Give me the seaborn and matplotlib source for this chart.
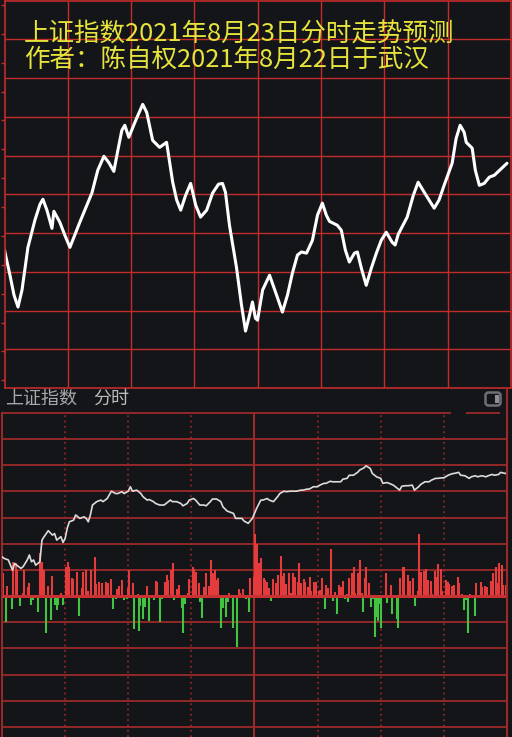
import matplotlib
matplotlib.use("Agg")
import matplotlib.pyplot as plt
from matplotlib.patches import FancyBboxPatch, Rectangle
from matplotlib.transforms import IdentityTransform
import seaborn as sns
import numpy as np

# --- data ---------------------------------------------------------------
# top panel: predicted intraday curve (minutes after open, grid units)
pred_t = [0, 0.7, 2.6, 4.5, 6.4, 8.3, 11.1, 14.4, 16.8, 18.2,
          20.1, 22.5, 23.4, 26.2, 28.6, 31.0, 35.7, 41.4, 44.2, 47.1,
          49.4, 51.8, 53.7, 55.6, 57.0, 58.9, 62.2, 65.5, 67.4, 70.2,
          73.5, 76.8, 79.7, 81.6, 83.5, 85.8, 88.2, 90.6, 92.9, 95.8,
          98.6, 101.4, 103.3, 104.7, 106.6, 109.9, 112.3, 114.2, 116.1, 117.5,
          118.9, 119.9, 122.3, 125.6, 128.9, 131.7, 134.1, 136.4, 138.8, 140.7,
          143.1, 145.9, 148.3, 150.6, 152.5, 154.0, 157.7, 159.6, 161.5, 163.4,
          165.8, 167.2, 169.1, 171.4, 173.8, 176.2, 178.5, 180.9, 183.7, 185.1,
          186.6, 190.8, 193.7, 196.0, 199.8, 203.6, 205.9, 208.3, 212.1, 214.0,
          215.9, 217.8, 218.8, 221.6, 223.1, 225.0, 227.3, 229.7, 232.1, 238.1]
pred_v = [3.56, 3.38, 2.91, 2.40, 2.09, 2.53, 3.63, 4.33, 4.74, 4.87,
          4.59, 4.12, 4.56, 4.28, 3.94, 3.63, 4.28, 5.03, 5.62, 5.98,
          5.82, 5.59, 6.13, 6.65, 6.78, 6.47, 6.91, 7.32, 7.11, 6.39,
          6.21, 6.34, 5.31, 4.85, 4.59, 4.97, 5.28, 4.72, 4.41, 4.59,
          5.03, 5.26, 5.28, 5.05, 4.20, 3.12, 2.14, 1.47, 1.88, 2.22,
          1.80, 1.75, 2.53, 2.91, 2.40, 1.96, 2.40, 2.96, 3.43, 3.51,
          3.48, 3.81, 4.46, 4.77, 4.46, 4.30, 4.20, 4.07, 3.56, 3.25,
          3.48, 3.51, 3.09, 2.65, 3.09, 3.48, 3.81, 4.02, 3.76, 3.69,
          3.97, 4.41, 4.97, 5.31, 4.97, 4.64, 4.85, 5.23, 5.80, 6.44,
          6.78, 6.60, 6.34, 6.19, 5.62, 5.23, 5.28, 5.44, 5.49, 5.80]

# bottom panel: actual minute line (grid units, 0 = volume baseline)
real_t = [0, 1, 3, 5, 6, 7, 9, 10, 12, 13,
          14, 15, 16, 18, 19, 20, 22, 24, 25, 26,
          28, 29, 30, 31, 32, 34, 35, 37, 39, 40,
          41, 42, 43, 45, 47, 48, 50, 52, 54, 55,
          57, 58, 60, 61, 62, 64, 66, 67, 69, 70,
          72, 73, 75, 77, 78, 80, 81, 83, 85, 86,
          88, 89, 91, 92, 94, 96, 97, 99, 100, 102,
          104, 105, 107, 108, 110, 111, 112, 114, 115, 117,
          119, 120, 121, 123, 124, 126, 127, 129, 131, 132,
          134, 135, 137, 138, 140, 142, 143, 145, 146, 148,
          150, 151, 153, 154, 156, 157, 159, 161, 162, 164,
          165, 167, 169, 170, 172, 173, 175, 176, 178, 180,
          181, 183, 184, 186, 188, 189, 190, 192, 193, 195,
          196, 198, 199, 201, 203, 204, 206, 207, 209, 210,
          212, 214, 215, 217, 218, 220, 222, 223, 225, 226,
          228, 230, 231, 233, 234, 236, 237, 239, 240]
real_v = [1.50, 1.44, 1.38, 0.99, 1.25, 1.18, 1.06, 1.12, 1.38, 1.57,
          1.31, 1.38, 1.18, 1.31, 2.14, 2.27, 2.50, 2.33, 2.39, 2.14,
          2.27, 2.05, 2.20, 2.59, 2.84, 2.90, 3.10, 2.97, 3.03, 2.97,
          2.84, 3.10, 3.48, 3.61, 3.67, 3.61, 3.73, 4.01, 3.92, 3.92,
          3.99, 3.92, 4.01, 4.18, 4.01, 4.05, 3.92, 3.80, 3.67, 3.69,
          3.61, 3.54, 3.48, 3.48, 3.54, 3.67, 3.61, 3.61, 3.54, 3.45,
          3.54, 3.67, 3.73, 3.67, 3.48, 3.48, 3.45, 3.61, 3.71, 3.71,
          3.61, 3.41, 3.25, 3.22, 3.16, 2.97, 2.97, 2.97, 2.87, 2.78,
          2.97, 3.16, 3.35, 3.67, 3.67, 3.73, 3.67, 3.61, 3.80, 3.92,
          4.01, 3.99, 4.01, 4.01, 4.01, 4.05, 4.05, 4.09, 4.09, 4.18,
          4.18, 4.24, 4.31, 4.31, 4.39, 4.37, 4.37, 4.37, 4.47, 4.50,
          4.62, 4.62, 4.73, 4.82, 4.90, 4.98, 4.88, 4.69, 4.56, 4.50,
          4.31, 4.34, 4.31, 4.24, 4.11, 4.05, 4.20, 4.22, 4.22, 4.24,
          4.05, 4.18, 4.27, 4.37, 4.37, 4.43, 4.50, 4.50, 4.52, 4.52,
          4.62, 4.68, 4.69, 4.73, 4.62, 4.60, 4.50, 4.56, 4.60, 4.56,
          4.60, 4.56, 4.60, 4.65, 4.62, 4.65, 4.73, 4.69, 4.69]

# volume bars: positive = red (up), negative = green (down)
vol_t = [0.3, 1.9, 2.5, 4.8, 5.4, 6.7, 7.3, 8.6, 9.8, 10.6,
         12.2, 13.0, 13.6, 14.9, 15.7, 17.3, 18.1, 18.9, 20.1, 20.9,
         21.7, 23.1, 23.6, 25.2, 26.0, 26.8, 28.0, 28.8, 30.4, 31.2,
         31.8, 33.1, 33.9, 35.8, 36.7, 37.9, 38.3, 39.9, 41.0, 42.4,
         44.0, 44.8, 46.2, 47.4, 49.4, 50.2, 51.8, 52.9, 54.2, 54.8,
         55.6, 57.0, 58.0, 59.2, 59.7, 60.5, 62.1, 62.9, 64.5, 65.0,
         65.7, 67.2, 68.0, 68.7, 70.0, 72.4, 73.2, 73.7, 75.1, 75.9,
         77.5, 78.2, 79.0, 80.3, 81.1, 81.6, 83.2, 84.0, 85.5, 86.2,
         87.0, 88.2, 89.0, 90.6, 91.4, 92.2, 93.5, 94.1, 94.9, 96.1,
         96.9, 98.2, 99.3, 100.1, 101.4, 102.0, 102.8, 104.1, 104.9, 106.4,
         107.2, 107.7, 109.8, 111.5, 112.5, 113.3, 114.4, 115.2, 116.0, 117.2,
         117.9, 119.6, 120.4, 121.2, 122.3, 123.1, 124.3, 125.1, 125.9, 127.0,
         127.9, 128.8, 130.2, 131.0, 132.6, 133.4, 134.1, 135.1, 136.2, 137.5,
         138.3, 139.1, 140.5, 141.3, 142.1, 143.4, 144.1, 145.2, 146.2, 146.8,
         148.4, 149.2, 150.5, 151.3, 152.1, 153.3, 154.1, 154.9, 156.3, 157.1,
         158.4, 159.2, 160.0, 161.3, 162.0, 162.8, 163.9, 164.3, 165.1, 166.3,
         167.1, 167.9, 169.2, 170.0, 171.1, 171.5, 172.3, 173.1, 174.6, 175.5,
         176.1, 177.1, 177.9, 178.7, 179.8, 180.3, 182.3, 183.1, 184.9, 185.3,
         187.5, 188.3, 189.1, 190.4, 191.2, 193.1, 193.9, 195.5, 196.3, 197.5,
         198.3, 199.1, 200.7, 201.3, 202.3, 203.7, 204.2, 205.8, 206.5, 207.3,
         208.5, 209.2, 210.8, 211.8, 212.6, 213.7, 214.8, 216.5, 217.3, 218.8,
         219.5, 220.3, 221.6, 222.4, 224.8, 225.1, 227.5, 228.3, 229.5, 230.3,
         232.4, 233.5, 234.8, 235.4, 236.2, 237.4, 238.2, 239.3]
vol_v = [0.88, -0.99, 0.38, -0.50, 1.30, 1.26, 0.99, -0.38, 0.11, 0.99,
         0.34, 0.50, -0.34, -0.15, -0.09, -0.61, 1.64, 1.30, 0.99, -1.41,
         0.38, -0.92, 0.76, -0.34, -0.53, -0.34, 0.11, -0.34, 1.11, 1.30,
         1.11, 0.69, 0.65, 0.92, -0.76, 0.31, 0.92, 0.99, 0.19, 0.99,
         1.49, 0.46, 0.53, 0.50, 0.53, 0.50, 0.65, -0.50, -0.13, 0.27,
         0.38, 0.61, -0.15, -0.13, 0.31, 0.99, 0.50, -1.26, 0.08, -1.34,
         -0.38, -0.88, -0.42, 0.38, -0.96, -0.15, 0.57, 0.55, -0.99, -0.13,
         0.55, 0.80, 0.61, 0.99, 1.26, -0.15, 0.27, 0.42, -0.46, -1.41,
         -0.31, 0.11, 0.65, 1.11, 1.02, 0.92, 0.50, -0.23, -0.84, 0.34,
         0.88, 0.38, 1.38, 0.88, 0.99, 0.61, 0.69, -1.22, -0.46, -0.80,
         -0.23, 0.11, -1.22, -1.95, 0.27, 0.13, 0.27, -0.09, -0.13, -0.61,
         0.69, 0.73, 2.37, 1.99, 1.26, 1.45, 0.69, 0.61, 0.55, 0.31,
         -0.18, 0.65, 0.50, 0.80, 1.53, 0.76, 0.88, 0.46, 0.88, 0.11,
         0.88, 0.73, 0.55, 1.26, 0.50, 0.65, 0.55, 0.34, 0.73, 0.19,
         0.55, 0.55, 0.19, 0.23, 0.69, -0.50, 0.42, 0.31, 1.80, -0.18,
         0.15, -0.69, 0.42, 0.34, 0.57, -0.13, 0.08, -0.23, 0.69, 0.88,
         1.11, 0.11, 0.88, 1.38, 0.11, -0.61, 0.69, 1.11, 0.50, -0.42,
         -0.13, -1.57, -0.80, -0.96, -0.31, -1.22, 0.88, -0.27, 0.42, -0.69,
         -0.88, -1.22, 0.69, 1.11, 1.10, 0.80, 0.57, 0.69, -0.38, 0.19,
         2.37, 0.92, 0.96, 1.02, 0.61, 0.59, 0.08, 0.96, 0.71, 1.22,
         1.02, 0.19, 0.61, 0.55, 0.46, 0.38, 0.42, 0.73, 0.51, 0.08,
         -0.53, -0.15, -1.41, 0.08, -0.76, 0.50, 0.53, 0.33, 0.38, 0.33,
         0.57, 0.88, 1.11, 0.51, 1.26, 1.18, 0.42, 0.42]

title_1 = "上证指数2021年8月23日分时走势预测"
title_2 = "作者：陈自权2021年8月22日于武汉"
header_name = "上证指数"
header_mode = "分时"

# --- style --------------------------------------------------------------
BG = "#141518"
GRID_TOP = "#c42b2b"
GRID_BOT = "#9c2a2a"
UP = "#e43c3c"
DOWN = "#42c442"

sns.set_theme(style="dark", rc={"axes.facecolor": BG, "figure.facecolor": BG})
plt.rcParams["font.family"] = ["Noto Sans CJK SC", "DejaVu Sans"]

W, H = 512, 737
fig = plt.figure(figsize=(W / 100, H / 100), dpi=100)


def box(x0, y0, x1, y1):
    # pixel box (top-left origin) -> figure fraction
    return [x0 / W, 1 - y1 / H, (x1 - x0) / W, (y1 - y0) / H]


# --- top panel: forecast ------------------------------------------------
ax1 = fig.add_axes(box(4.5, 0.5, 511, 388))
ax1.set_xlim(0, 240)
ax1.set_ylim(0, 10)
ax1.vlines(range(30, 240, 30), 0, 10, color=GRID_TOP, lw=1)
ax1.hlines(range(1, 10), 0, 240, color=GRID_TOP, lw=1)
sns.lineplot(x=pred_t, y=pred_v, ax=ax1, color="white", lw=2.2,
             sort=False, estimator=None)
ax1.set_xticks([])
ax1.set_yticks(np.arange(0.2, 10, 0.745))
ax1.tick_params(axis="y", left=True, length=3, width=1, color=GRID_TOP,
                labelleft=False)
for s in ax1.spines.values():
    s.set_color(GRID_TOP)
    s.set_linewidth(1.2)
ax1.set_xlabel("")
ax1.set_ylabel("")

fig.text(24 / W, 1 - 35 / H, title_1, color="#e6e43c", fontsize=18.4,
         va="center", ha="left")
fig.text(24 / W, 1 - 60 / H, title_2, color="#e6e43c", fontsize=18.4,
         va="center", ha="left")

# --- header strip --------------------------------------------------------
fig.text(5 / W, 1 - 399 / H, header_name, color="#a4aaab", fontsize=13,
         va="center", ha="left")
fig.text(93 / W, 1 - 399 / H, header_mode, color="#b8bcbd", fontsize=13,
         va="center", ha="left")
ident = IdentityTransform()
fig.patches.append(FancyBboxPatch((485.5, H - 405.5), 15, 13,
                                  boxstyle="round,pad=0,rounding_size=3",
                                  fc="none", ec="#6c7074", lw=1.8,
                                  transform=ident, figure=fig))
fig.patches.append(Rectangle((494.5, H - 403), 4, 8.5, fc="#8c9094",
                             ec="none", transform=ident, figure=fig))
fig.lines.append(plt.Line2D([507.3, 507.3], [H - 737, H - 388],
                            color=GRID_BOT, lw=1.4, transform=ident,
                            figure=fig))

# --- bottom panel: actual minute chart ----------------------------------
ax2 = fig.add_axes(box(2, 413, 507, 737))
ax2.set_xlim(0, 240)
ax2.set_ylim(-5.39, 7)
ax2.hlines([-5, -4, -3, -2, -1, 1, 2, 3, 4, 5, 6], 0, 240,
           color=GRID_BOT, lw=1.3)
ax2.hlines(7, 0, 213.5, color=GRID_BOT, lw=1.3, clip_on=False)
ax2.hlines(7, 220.5, 236.5, color=GRID_BOT, lw=1.3, clip_on=False)
ax2.vlines([30, 60, 90, 150, 180, 210], -5.39, 7, color=GRID_BOT, lw=1.2,
           linestyles=(0, (1, 2.2)))
ax2.vlines(120, -5.39, 7, color=GRID_BOT, lw=1.5)

vol_t = np.array(vol_t)
vol_v = np.array(vol_v)
ax2.vlines(vol_t[vol_v > 0], 0, vol_v[vol_v > 0], color=UP, lw=1.5)
ax2.vlines(vol_t[vol_v < 0], 0, vol_v[vol_v < 0], color=DOWN, lw=1.5)
ax2.axhline(0, color="#c83232", lw=2.2, zorder=3)

sns.lineplot(x=real_t, y=real_v, ax=ax2, color="#dcdcdc", lw=1.2,
             sort=False, estimator=None, zorder=4)
ax2.set_xticks([])
ax2.set_yticks([])
ax2.set_xlabel("")
ax2.set_ylabel("")
for k, s in ax2.spines.items():
    s.set_color(GRID_BOT)
    s.set_linewidth(1.4)
    s.set_visible(k in ("left", "right"))

fig.savefig("out.png", dpi=100, facecolor=BG)
